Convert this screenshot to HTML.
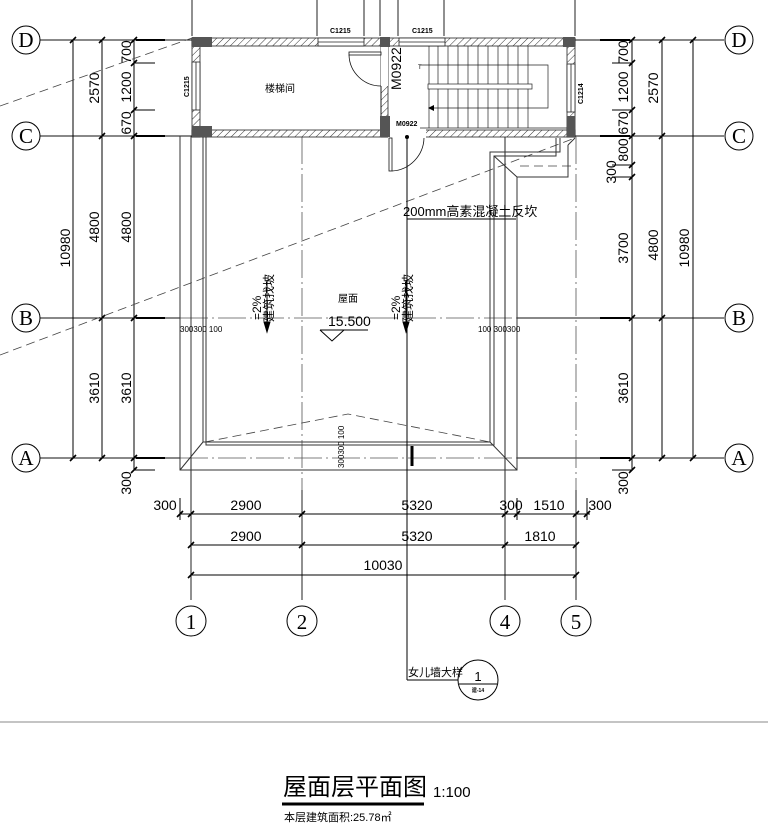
<!DOCTYPE html>
<html><head><meta charset="utf-8"><style>
html,body{margin:0;padding:0;background:#fff;}
svg{display:block;}
text{font-family:"Liberation Sans","Noto Sans CJK SC",sans-serif;fill:#000;}
</style></head><body>
<svg width="768" height="826" viewBox="0 0 768 826" xmlns="http://www.w3.org/2000/svg">
<defs>
<pattern id="h" width="5" height="5" patternUnits="userSpaceOnUse" patternTransform="rotate(45)">
<rect width="5" height="5" fill="#fff"/><line x1="0" y1="0" x2="0" y2="5" stroke="#333" stroke-width="1"/>
</pattern>
</defs>
<g stroke="#222" stroke-width="1">
<line x1="192" y1="0" x2="192" y2="36"/><line x1="317" y1="0" x2="317" y2="36"/>
<line x1="364" y1="0" x2="364" y2="36"/><line x1="380" y1="0" x2="380" y2="36"/>
<line x1="398" y1="0" x2="398" y2="36"/><line x1="444" y1="0" x2="444" y2="36"/>
<line x1="575" y1="0" x2="575" y2="36"/>
</g>
<g stroke="#111" stroke-width="1">
<line x1="40" y1="40" x2="192" y2="40"/><line x1="575" y1="40" x2="724" y2="40"/>
<line x1="40" y1="136" x2="192" y2="136"/><line x1="575" y1="136" x2="724" y2="136"/>
<line x1="40" y1="318" x2="180" y2="318"/><line x1="517" y1="318" x2="724" y2="318"/>
<line x1="40" y1="458" x2="180" y2="458"/><line x1="517" y1="458" x2="724" y2="458"/>
</g>
<g stroke="#000" stroke-width="2">
<line x1="136" y1="40" x2="165" y2="40"/><line x1="136" y1="136" x2="165" y2="136"/>
<line x1="136" y1="318" x2="165" y2="318"/><line x1="136" y1="458" x2="165" y2="458"/>
<line x1="600" y1="40" x2="630" y2="40"/><line x1="600" y1="136" x2="630" y2="136"/>
<line x1="600" y1="318" x2="630" y2="318"/><line x1="600" y1="458" x2="630" y2="458"/>
</g>
<g stroke="#555" stroke-width="0.8" stroke-dasharray="28,4,2,4">
<line x1="180" y1="318" x2="517" y2="318"/>
<line x1="180" y1="458" x2="517" y2="458"/>
<line x1="302" y1="136" x2="302" y2="490"/>
<line x1="576" y1="136" x2="576" y2="490"/>
</g>
<g stroke="#222" stroke-width="1">
<line x1="191" y1="136" x2="191" y2="600"/>
<line x1="302" y1="490" x2="302" y2="600"/>
<line x1="505" y1="136" x2="505" y2="600"/>
<line x1="576" y1="490" x2="576" y2="600"/>
</g>
<g stroke="#000" stroke-width="1">
<line x1="73" y1="40" x2="73" y2="458"/><line x1="102" y1="40" x2="102" y2="458"/><line x1="134" y1="40" x2="134" y2="470"/>
<line x1="134" y1="63" x2="155" y2="63"/><line x1="134" y1="110" x2="155" y2="110"/><line x1="134" y1="470" x2="155" y2="470"/>
<line x1="632" y1="40" x2="632" y2="470"/><line x1="662" y1="40" x2="662" y2="458"/><line x1="693" y1="40" x2="693" y2="458"/>
<line x1="612" y1="63" x2="632" y2="63"/><line x1="612" y1="110" x2="632" y2="110"/><line x1="612" y1="165" x2="632" y2="165"/><line x1="612" y1="177" x2="632" y2="177"/><line x1="612" y1="470" x2="632" y2="470"/>
</g>
<g stroke="#000" stroke-width="1.6">
<path d="M70 43l6-6M99 43l6-6M131 43l6-6M131 66l6-6M131 113l6-6M99 139l6-6M131 139l6-6M99 321l6-6M131 321l6-6M70 461l6-6M99 461l6-6M131 461l6-6M131 473l6-6"/>
<path d="M629 43l6-6M659 43l6-6M690 43l6-6M629 66l6-6M629 113l6-6M629 139l6-6M659 139l6-6M629 168l6-6M629 180l6-6M629 321l6-6M659 321l6-6M629 461l6-6M659 461l6-6M690 461l6-6M629 473l6-6"/>
</g>
<g font-size="14">
<text transform="translate(70,248) rotate(-90)" text-anchor="middle">10980</text>
<text transform="translate(99,88) rotate(-90)" text-anchor="middle">2570</text>
<text transform="translate(99,227) rotate(-90)" text-anchor="middle">4800</text>
<text transform="translate(99,388) rotate(-90)" text-anchor="middle">3610</text>
<text transform="translate(131,52) rotate(-90)" text-anchor="middle">700</text>
<text transform="translate(131,87) rotate(-90)" text-anchor="middle">1200</text>
<text transform="translate(131,123) rotate(-90)" text-anchor="middle">670</text>
<text transform="translate(131,227) rotate(-90)" text-anchor="middle">4800</text>
<text transform="translate(131,388) rotate(-90)" text-anchor="middle">3610</text>
<text transform="translate(131,483) rotate(-90)" text-anchor="middle">300</text>
<text transform="translate(628,52) rotate(-90)" text-anchor="middle">700</text>
<text transform="translate(628,87) rotate(-90)" text-anchor="middle">1200</text>
<text transform="translate(628,123) rotate(-90)" text-anchor="middle">670</text>
<text transform="translate(628,150) rotate(-90)" text-anchor="middle">800</text>
<text transform="translate(616,172) rotate(-90)" text-anchor="middle">300</text>
<text transform="translate(628,248) rotate(-90)" text-anchor="middle">3700</text>
<text transform="translate(628,388) rotate(-90)" text-anchor="middle">3610</text>
<text transform="translate(628,483) rotate(-90)" text-anchor="middle">300</text>
<text transform="translate(658,88) rotate(-90)" text-anchor="middle">2570</text>
<text transform="translate(658,245) rotate(-90)" text-anchor="middle">4800</text>
<text transform="translate(689,248) rotate(-90)" text-anchor="middle">10980</text>
</g>
<g fill="#fff" stroke="#000" stroke-width="1">
<circle cx="26" cy="40" r="14"/><circle cx="26" cy="136" r="14"/><circle cx="26" cy="318" r="14"/><circle cx="26" cy="458" r="14"/>
<circle cx="739" cy="40" r="14"/><circle cx="739" cy="136" r="14"/><circle cx="739" cy="318" r="14"/><circle cx="739" cy="458" r="14"/>
<circle cx="191" cy="621" r="15"/><circle cx="302" cy="621" r="15"/><circle cx="505" cy="621" r="15"/><circle cx="576" cy="621" r="15"/>
</g>
<g font-size="21" text-anchor="middle">
<text x="26" y="47" style="font-family:'Liberation Serif',serif">D</text><text x="26" y="143" style="font-family:'Liberation Serif',serif">C</text><text x="26" y="325" style="font-family:'Liberation Serif',serif">B</text><text x="26" y="465" style="font-family:'Liberation Serif',serif">A</text>
<text x="739" y="47" style="font-family:'Liberation Serif',serif">D</text><text x="739" y="143" style="font-family:'Liberation Serif',serif">C</text><text x="739" y="325" style="font-family:'Liberation Serif',serif">B</text><text x="739" y="465" style="font-family:'Liberation Serif',serif">A</text>
<text x="191" y="629" style="font-family:'Liberation Serif',serif">1</text><text x="302" y="629" style="font-family:'Liberation Serif',serif">2</text><text x="505" y="629" style="font-family:'Liberation Serif',serif">4</text><text x="576" y="629" style="font-family:'Liberation Serif',serif">5</text>
</g>
<g stroke="#444" stroke-width="0.8" stroke-dasharray="9,5" fill="none">
<line x1="0" y1="106" x2="192" y2="38"/>
<line x1="0" y1="355" x2="575" y2="138"/>
<polyline points="205,442 348,414 490,442"/>
<line x1="520" y1="166" x2="575" y2="166"/>
</g>
<g stroke="#333" stroke-width="1" fill="none">
<polyline points="180,136 180,470 517,470 517,177 568,177 568,145"/>
<polyline points="191,136 191,458"/>
<polyline points="203,136 203,442 490,442 490,152 560,152 560,138"/>
<polyline points="206,136 206,445 494,445 494,156 556,156 556,138"/>
<line x1="180" y1="470" x2="203" y2="442"/><line x1="517" y1="470" x2="490" y2="442"/>
<line x1="494" y1="156" x2="517" y2="177"/><line x1="568" y1="145" x2="575" y2="138"/>
</g>
<line x1="412" y1="446" x2="412" y2="466" stroke="#000" stroke-width="3"/>
<g font-size="8">
<text x="180" y="332">300300 100</text>
<text x="478" y="332">100 300300</text>
<text transform="translate(344,468) rotate(-90)">300300 100</text>
</g>
<g font-size="12">
<text transform="translate(261,320) rotate(-90)">=2%</text>
<text transform="translate(273,322) rotate(-90)">建筑找坡</text>
<text transform="translate(400,320) rotate(-90)">=2%</text>
<text transform="translate(412,322) rotate(-90)">建筑找坡</text>
<text x="338" y="302" font-size="10">屋面</text>
<text x="328" y="326" font-size="14">15.500</text>
</g>
<g stroke="#000" stroke-width="1" fill="none">
<line x1="267" y1="280" x2="267" y2="328"/><line x1="406" y1="280" x2="406" y2="328"/>
<path d="M264 322l3 10 3-10z" fill="#000"/><path d="M403 322l3 10 3-10z" fill="#000"/>
<line x1="320" y1="330" x2="368" y2="330"/><path d="M320 330l12 11 12-11"/>
</g>
<g stroke="#222" stroke-width="0.8">
<rect x="192" y="38" width="383" height="8" fill="url(#h)"/>
<rect x="192" y="130" width="383" height="7" fill="url(#h)"/>
<rect x="192" y="38" width="8" height="99" fill="url(#h)"/>
<rect x="567" y="38" width="8" height="99" fill="url(#h)"/>
<rect x="381" y="38" width="7" height="99" fill="url(#h)"/>
</g>
<g fill="#fff" stroke="#222" stroke-width="0.8">
<rect x="318" y="38" width="46" height="8"/><line x1="318" y1="42" x2="364" y2="42"/>
<rect x="399" y="38" width="46" height="8"/><line x1="399" y1="42" x2="445" y2="42"/>
<rect x="192" y="62" width="8" height="48"/><line x1="196" y1="62" x2="196" y2="110"/>
<rect x="567" y="64" width="8" height="48"/><line x1="571" y1="64" x2="571" y2="112"/>
<rect x="381" y="46" width="7" height="40" stroke="none"/>
<rect x="388" y="128" width="38" height="10" stroke="none"/>
</g>
<g fill="#555">
<rect x="192" y="37" width="20" height="10"/><rect x="192" y="126" width="20" height="11"/>
<rect x="380" y="37" width="10" height="10"/><rect x="380" y="116" width="10" height="21"/>
<rect x="563" y="37" width="12" height="10"/><rect x="567" y="116" width="8" height="21"/>
</g>
<g stroke="#111" stroke-width="0.8" fill="none">
<rect x="349" y="52" width="32" height="3"/>
<path d="M349 55 A32 32 0 0 0 381 86"/>
<rect x="389" y="138" width="3" height="33"/>
<path d="M392 171 A34 34 0 0 0 424 138"/>
<line x1="381" y1="86" x2="381" y2="116"/>
</g>
<g stroke="#222" stroke-width="0.7" fill="none">
<line x1="429" y1="46" x2="429" y2="128"/>
<path d="M438 46V128M448 46V128M458 46V128M468 46V128M478 46V128M488 46V128M498 46V128M508 46V128M518 46V128M528 46V128"/>
<rect x="428" y="84" width="104" height="5" fill="#fff"/>
<polyline points="420,65 548,65 548,108 434,108"/>
<line x1="420" y1="128" x2="567" y2="128"/>
</g>
<path d="M434 105l-6 3 6 3z" fill="#000"/>
<g font-size="7" font-weight="bold">
<text x="330" y="33">C1215</text><text x="412" y="33">C1215</text>
<text transform="translate(189,97) rotate(-90)">C1215</text>
<text transform="translate(583,104) rotate(-90)">C1214</text>
<text x="396" y="126">M0922</text>
</g>
<text x="265" y="92" font-size="10">楼梯间</text>
<text transform="translate(401,90) rotate(-90)" font-size="14">M0922</text>
<text x="418" y="69" font-size="6">T</text>
<g stroke="#000" stroke-width="1" fill="none">
<line x1="407" y1="138" x2="407" y2="680"/>
<line x1="407" y1="219" x2="516" y2="219"/>
<line x1="407" y1="680" x2="460" y2="680"/>
<circle cx="478" cy="680" r="20" fill="#fff"/>
<line x1="459" y1="684" x2="497" y2="684"/>
</g>
<circle cx="407" cy="137" r="2" fill="#000"/>
<text x="403" y="216" font-size="13">200mm高素混凝土反坎</text>
<text x="408" y="676" font-size="11">女儿墙大样</text>
<text x="478" y="681" font-size="13" text-anchor="middle">1</text>
<text x="478" y="692" font-size="5" text-anchor="middle" font-weight="bold">建-14</text>
<g stroke="#000" stroke-width="1">
<line x1="180" y1="514" x2="590" y2="514"/>
<line x1="191" y1="545" x2="576" y2="545"/>
<line x1="191" y1="575" x2="576" y2="575"/>
<line x1="180" y1="498" x2="180" y2="520"/><line x1="517" y1="498" x2="517" y2="520"/><line x1="587" y1="498" x2="587" y2="520"/>
</g>
<g stroke="#000" stroke-width="1.6">
<path d="M177 517l6-6M188 517l6-6M299 517l6-6M502 517l6-6M514 517l6-6M573 517l6-6M584 517l6-6M188 548l6-6M299 548l6-6M502 548l6-6M573 548l6-6M188 578l6-6M573 578l6-6"/>
</g>
<g font-size="14" text-anchor="middle">
<text x="165" y="510">300</text><text x="246" y="510">2900</text><text x="417" y="510">5320</text>
<text x="511" y="510">300</text><text x="549" y="510">1510</text><text x="600" y="510">300</text>
<text x="246" y="541">2900</text><text x="417" y="541">5320</text><text x="540" y="541">1810</text>
<text x="383" y="570">10030</text>
</g>
<line x1="0" y1="722" x2="768" y2="722" stroke="#888" stroke-width="1"/>
<text x="283" y="795" font-size="24">屋面层平面图</text>
<line x1="282" y1="804" x2="424" y2="804" stroke="#000" stroke-width="3"/>
<text x="433" y="797" font-size="15">1:100</text>
<text x="284" y="821" font-size="11">本层建筑面积:25.78㎡</text>
</svg>
</body></html>
